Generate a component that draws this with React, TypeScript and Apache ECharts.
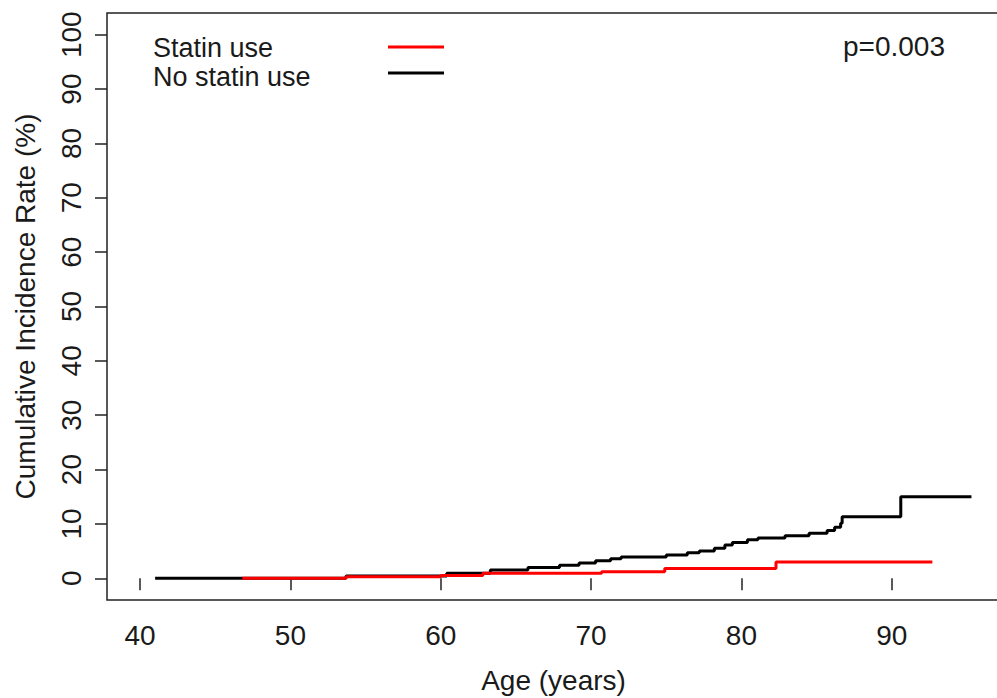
import React, { useEffect, useRef } from "react";
import * as echarts from "echarts";

// Kaplan-Meier style cumulative incidence steps (age in years, rate in %)
const statinAge = [46.8, 53.7, 60.0, 62.8, 70.7, 74.9, 82.3, 92.7];
const statinRate = [0, 0.3, 0.5, 0.9, 1.2, 1.8, 3.0, 3.0];

const noStatinAge = [
  41.0, 53.7, 60.4, 63.3, 65.8, 67.9, 69.2, 70.3, 71.3, 72.0, 75.0, 76.4, 77.2,
  78.2, 78.9, 79.4, 80.4, 81.1, 82.9, 84.5, 85.7, 86.2, 86.6, 86.7, 90.6, 95.3,
];
const noStatinRate = [
  0, 0.4, 0.9, 1.5, 2.0, 2.4, 2.8, 3.2, 3.6, 3.9, 4.3, 4.7, 5.0, 5.5, 6.1, 6.6,
  7.1, 7.4, 7.8, 8.3, 8.8, 9.4, 10.1, 11.3, 15.0, 15.0,
];

const xTicks = [40, 50, 60, 70, 80, 90];
const yTicks = [0, 10, 20, 30, 40, 50, 60, 70, 80, 90, 100];

const seriesNames = ["Statin use", "No statin use"];
const pValueText = "p=0.003";
const xTitle = "Age (years)";
const yTitle = "Cumulative Incidence Rate (%)";

const FONT = "'Liberation Sans', Arial, Helvetica, sans-serif";
const NARROW = "'Liberation Sans Narrow', 'Arial Narrow', 'Liberation Sans', Arial, sans-serif";
const TXT = "#1a1a1a";

export default function App() {
  const ref = useRef<HTMLDivElement>(null);

  useEffect(() => {
    if (!ref.current) return;
    const chart = echarts.init(ref.current, undefined, { renderer: "svg" });

    const statinData = statinAge.map((a, i) => [a, statinRate[i]]);
    const noStatinData = noStatinAge.map((a, i) => [a, noStatinRate[i]]);

    chart.setOption({
      animation: false,
      backgroundColor: "#ffffff",
      grid: {
        left: 107,
        top: 13,
        width: 893,
        height: 587,
        show: true,
        borderColor: "#222",
        borderWidth: 1.5,
        backgroundColor: "transparent",
        containLabel: false,
        outerBoundsMode: "none",
      },
      xAxis: {
        type: "value",
        min: 37.8,
        max: 97.2,
        splitLine: { show: false },
        axisLine: { show: false },
        axisTick: {
          show: true,
          inside: false,
          length: 12,
          customValues: xTicks,
          lineStyle: { color: "#222", width: 1.5 },
        },
        axisLabel: {
          customValues: xTicks,
          margin: 21,
          fontSize: 28,
          lineHeight: 28,
          fontFamily: FONT,
          color: TXT,
          showMinLabel: true,
          showMaxLabel: true,
        },
        name: xTitle,
        nameLocation: "middle",
        nameGap: 66,
        nameTextStyle: { fontSize: 28, fontFamily: FONT, color: TXT, lineHeight: 28 },
      },
      yAxis: {
        type: "value",
        min: -4,
        max: 104,
        splitLine: { show: false },
        axisLine: { show: false },
        axisTick: {
          show: true,
          inside: false,
          length: 12,
          customValues: yTicks,
          lineStyle: { color: "#222", width: 1.5 },
        },
        axisLabel: {
          customValues: yTicks,
          rotate: 90,
          margin: 22,
          fontSize: 28,
          lineHeight: 28,
          fontFamily: NARROW,
          color: TXT,
          showMinLabel: true,
          showMaxLabel: true,
        },
        name: yTitle,
        nameLocation: "middle",
        nameGap: 68,
        nameTextStyle: { fontSize: 28, fontFamily: FONT, color: TXT, lineHeight: 28 },
      },
      series: [
        {
          name: seriesNames[1],
          type: "line",
          step: "end",
          data: noStatinData,
          showSymbol: false,
          lineStyle: { color: "#000000", width: 3 },
          itemStyle: { color: "#000000" },
          z: 2,
        },
        {
          name: seriesNames[0],
          type: "line",
          step: "end",
          data: statinData,
          showSymbol: false,
          lineStyle: { color: "#ff0000", width: 3 },
          itemStyle: { color: "#ff0000" },
          z: 3,
        },
      ],
      graphic: [
        {
          type: "text",
          x: 153,
          y: 48,
          style: {
            text: seriesNames[0],
            fontSize: 27,
            lineHeight: 27,
            fontFamily: FONT,
            fill: TXT,
            align: "left",
            verticalAlign: "middle",
          },
        },
        {
          type: "text",
          x: 153,
          y: 77,
          style: {
            text: seriesNames[1],
            fontSize: 27,
            lineHeight: 27,
            fontFamily: FONT,
            fill: TXT,
            align: "left",
            verticalAlign: "middle",
          },
        },
        {
          type: "line",
          shape: { x1: 388, y1: 47, x2: 444, y2: 47 },
          style: { stroke: "#ff0000", lineWidth: 3 },
        },
        {
          type: "line",
          shape: { x1: 388, y1: 73, x2: 444, y2: 73 },
          style: { stroke: "#000000", lineWidth: 3 },
        },
        {
          type: "text",
          x: 843,
          y: 46,
          style: {
            text: pValueText,
            fontSize: 28,
            fontFamily: FONT,
            fill: TXT,
            align: "left",
            verticalAlign: "middle",
          },
        },
      ],
    });

    return () => {
      chart.dispose();
    };
  }, []);

  return (
    <div
      ref={ref}
      style={{ position: "fixed", left: 0, top: 0, width: 997, height: 698, background: "#fff" }}
    />
  );
}
